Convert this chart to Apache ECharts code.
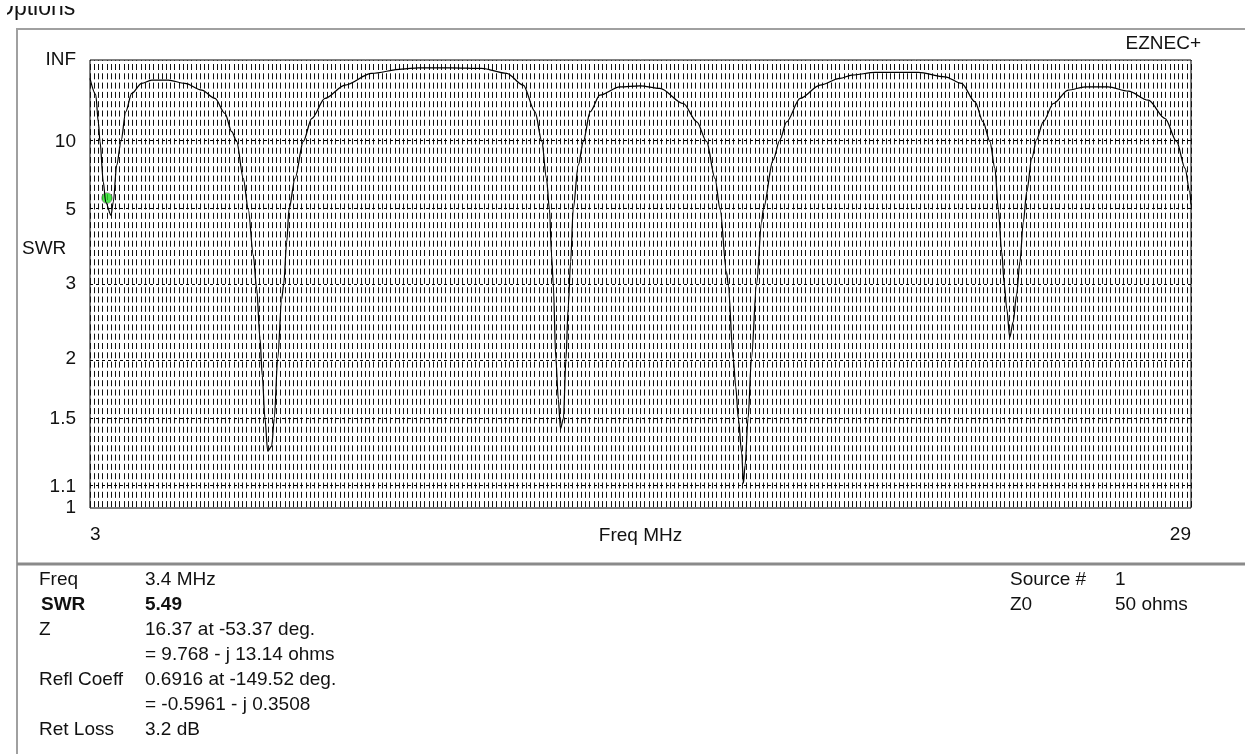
<!DOCTYPE html>
<html><head><meta charset="utf-8">
<script src="https://cdn.jsdelivr.net/npm/echarts@6/dist/echarts.min.js"></script>
<style>html,body{margin:0;padding:0;background:#fff}#c{width:1245px;height:754px}</style>
</head><body><div id="c"></div>
<script>
// ---- data ----
const freqMHz = [3.00,3.135,3.196,3.236,3.314,3.371,3.496,3.55,3.63,3.732,3.843,3.985,4.22,4.457,4.849,5.243,5.638,5.952,6.188,6.346,6.464,6.62,6.738,6.856,6.936,7.014,7.068,7.132,7.196,7.29,7.352,7.432,7.527,7.574,7.645,7.699,7.841,8.037,8.235,8.549,9.021,9.652,10.36,10.75,11.54,12.25,12.84,13.23,13.51,13.67,13.78,13.85,13.90,13.94,14.00,14.06,14.11,14.18,14.24,14.29,14.35,14.41,14.53,14.65,14.81,15.04,15.51,15.99,16.46,17.01,17.33,17.56,17.76,17.88,18.03,18.07,18.19,18.25,18.31,18.39,18.43,18.47,18.54,18.62,18.74,18.86,18.90,19.13,19.29,19.45,19.77,20.24,20.71,20.99,21.54,22.56,23.19,23.58,23.90,24.09,24.25,24.37,24.45,24.53,24.59,24.65,24.72,24.80,24.88,24.96,25.04,25.12,25.24,25.35,25.51,25.75,26.10,26.50,27.04,27.52,27.99,28.39,28.66,28.86,28.97,29.0];
const swrValues = [47.7,25.0,13.5,10.0,6.35,5.31,4.77,5.31,7.52,10.0,16.3,25.8,37.3,43.5,43.5,37.3,28.7,22.3,15.8,11.5,10.0,6.56,5.0,3.59,2.92,2.22,1.84,1.5,1.29,1.32,1.5,2.0,2.75,3.0,3.92,5.0,6.56,10.0,14.3,22.3,34.7,65.8,97.4,114,114,105.6,65.8,34.7,16.3,10.0,6.56,5.0,3.59,3.0,2.0,1.64,1.43,1.5,2.0,2.60,3.44,5.0,7.52,10.0,16.3,24.5,32.4,33.7,30.5,19.6,13.5,10.0,6.56,5.0,3.23,3.0,2.0,1.74,1.5,1.28,1.117,1.21,1.5,2.0,3.0,4.53,5.0,7.94,10.2,13.5,22.3,34.7,47.7,58.3,71.2,71.2,52.3,37.3,20.4,13.5,10.0,7.26,5.0,3.67,3.0,2.60,2.23,2.42,2.81,3.44,4.53,5.79,8.10,10.2,13.5,19.6,28.7,32.4,32.4,27.8,21.3,14.3,10.0,7.26,5.79,5.2];
const swrTicks = [1, 1.1, 1.5, 2, 3, 5, 10, Infinity];
const swrTickLabels = ['1', '1.1', '1.5', '2', '3', '5', '10', 'INF'];
const freqTickLabels = [3, 29];
const cursorFreq = [3.4];
const cursorSWR = [5.49];
const infoLeftLabels = ['Freq', 'SWR', 'Z', '', 'Refl Coeff', '', 'Ret Loss'];
const infoLeftValues = ['3.4 MHz', '5.49', '16.37 at -53.37 deg.', '= 9.768 - j 13.14 ohms', '0.6916 at -149.52 deg.', '= -0.5961 - j 0.3508', '3.2 dB'];
const infoRightLabels = ['Source #', 'Z0'];
const infoRightValues = ['1', '50 ohms'];

// SWR scale of EZNEC is linear in reflection coefficient
const rho = s => isFinite(s) ? (s - 1) / (s + 1) : 1;
const FONT = '"Liberation Sans", Arial, sans-serif';
const TXT = '#111';

const graphic = [];
function txt(x, y, text, bold, align, size) {
  graphic.push({type: 'text', x: x, y: y, z: 100, silent: true,
    style: {text: text, font: (bold ? 'bold ' : '') + (size || 19) + 'px ' + FONT, fill: TXT,
      align: align || 'left', verticalAlign: 'middle'}});
}
function hline(x1, x2, y, w, c) {
  graphic.push({type: 'line', z: 90, silent: true, shape: {x1: x1, y1: y, x2: x2, y2: y}, style: {stroke: c, lineWidth: w}});
}
function vline(x, y1, y2, w, c) {
  graphic.push({type: 'line', z: 90, silent: true, shape: {x1: x, y1: y1, x2: x, y2: y2}, style: {stroke: c, lineWidth: w}});
}
// window frame
txt(-4, 9, 'Options', false, 'left', 23);
graphic.push({type: 'rect', z: 105, silent: true, shape: {x: 0, y: 0, width: 200, height: 6}, style: {fill: '#fff'}});
graphic.push({type: 'rect', z: 105, silent: true, shape: {x: 0, y: 0, width: 7, height: 28}, style: {fill: '#fff'}});
hline(17, 1245, 29, 2, '#a0a0a0');
vline(17, 28, 754, 2, '#a0a0a0');
hline(17, 1245, 564, 3, '#8a8a8a');
txt(1201, 44, 'EZNEC+', false, 'right');
txt(22, 249, 'SWR', false);
infoLeftLabels.forEach((t, i) => { if (t) txt(i === 1 ? 41 : 39, 580 + 25 * i, t, i === 1); });
infoLeftValues.forEach((t, i) => txt(145, 580 + 25 * i, t, i === 1));
infoRightLabels.forEach((t, i) => txt(1010, 580 + 25 * i, t, false));
infoRightValues.forEach((t, i) => txt(1115, 580 + 25 * i, t, false));

const chart = echarts.init(document.getElementById('c'), null, {renderer: 'canvas'});
chart.setOption({
  animation: false,
  backgroundColor: '#fff',
  grid: {left: 90, top: 60, width: 1101, height: 448, show: true, borderColor: '#000', borderWidth: 1, backgroundColor: '#fff'},
  xAxis: {
    type: 'value', min: 3, max: 29, interval: 0.1,
    name: 'Freq MHz', nameLocation: 'middle', nameGap: 18, nameMoveOverlap: false,
    nameTextStyle: {fontFamily: FONT, fontSize: 19, color: TXT},
    axisLine: {show: false}, axisTick: {show: false},
    axisLabel: {fontFamily: FONT, fontSize: 19, color: TXT, margin: 17,
      alignMinLabel: 'left', alignMaxLabel: 'right',
      formatter: v => freqTickLabels.some(t => Math.abs(t - v) < 1e-6) ? String(Math.round(v)) : ''},
    splitLine: {show: true, lineStyle: {color: '#111', width: 1, type: [6, 3.3], dashOffset: 5.3}}
  },
  yAxis: {
    type: 'value', min: 0, max: 1,
    axisLine: {show: false}, axisTick: {show: false}, splitLine: {show: false},
    axisLabel: {fontFamily: FONT, fontSize: 19, color: TXT, margin: 14,
      customValues: swrTicks.map(rho),
      formatter: v => {
        let best = 0;
        swrTicks.forEach((s, i) => { if (Math.abs(rho(s) - v) < Math.abs(rho(swrTicks[best]) - v)) best = i; });
        return swrTickLabels[best];
      }}
  },
  series: [
    {
      type: 'line', data: freqMHz.map((f, i) => [f, rho(swrValues[i])]),
      symbol: 'none', showSymbol: false, z: 5,
      smooth: 0.3, smoothMonotone: 'x',
      lineStyle: {color: '#000', width: 1.2},
      markLine: {silent: true, symbol: 'none', label: {show: false},
        lineStyle: {color: '#000', width: 1, type: [3, 3]},
        data: swrTicks.filter(s => s > 1 && isFinite(s)).map(s => ({yAxis: rho(s)}))}
    },
    {
      type: 'scatter', data: cursorFreq.map((f, i) => [f, rho(cursorSWR[i])]),
      symbol: 'circle', symbolSize: 11, z: 4,
      itemStyle: {color: '#22e022', borderColor: '#d040d0', borderWidth: 0.5}
    }
  ],
  graphic: graphic
});
</script></body></html>
